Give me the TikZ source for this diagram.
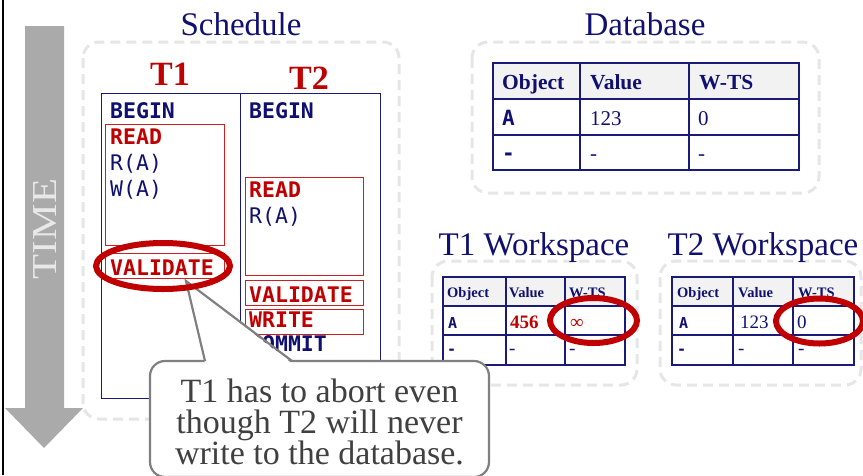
\documentclass[tikz,border=0pt]{standalone}
\usepackage{fontspec}
\usepackage{graphicx}
\setmainfont{Liberation Serif}
\setmonofont{DejaVu Sans Mono}
\usetikzlibrary{shapes.geometric}

\definecolor{navy}{RGB}{16,16,112}
\definecolor{tabline}{RGB}{26,26,120}
\definecolor{darkred}{RGB}{192,0,0}
\definecolor{boxred}{RGB}{204,32,32}
\definecolor{arrowgray}{RGB}{170,170,170}
\definecolor{timegray}{RGB}{232,232,232}
\definecolor{dashgray}{RGB}{230,230,230}
\definecolor{hdrgray}{RGB}{242,242,242}
\definecolor{notegray}{RGB}{128,128,128}
\definecolor{notetext}{RGB}{64,64,64}

\newcommand{\fsz}[2]{\fontsize{#1}{#2}\selectfont}

\tikzset{
  dashbox/.style={draw=dashgray, line width=3pt, dash pattern=on 10pt off 6pt, rounded corners=16pt},
  heading/.style={anchor=base, inner sep=0pt, text=navy, font=\fsz{33}{36}},
  txlabel/.style={anchor=base, inner sep=0pt, text=darkred, font=\fsz{34}{36}\bfseries},
  op/.style={anchor=base west, inner sep=0pt, font=\ttfamily\bfseries\fsz{21.5}{26}},
  opk/.style={op, text=navy},
  opr/.style={op, text=darkred},
  opn/.style={anchor=base west, inner sep=0pt, font=\ttfamily\fsz{21.5}{26}, text=navy},
  phase/.style={draw=boxred, line width=0.9pt},
  sched/.style={draw=tabline, line width=0.9pt},
  grid/.style={draw=tabline, line width=1.2pt},
  dbhead/.style={anchor=base west, inner sep=0pt, text=navy, font=\bfseries\fsz{21.5}{24}},
  dbkey/.style={anchor=base west, inner sep=0pt, text=navy, font=\ttfamily\bfseries\fsz{21}{24}},
  dbval/.style={anchor=base west, inner sep=0pt, text=navy, font=\fsz{21}{24}},
  wshead/.style={anchor=base west, inner sep=0pt, text=navy, font=\bfseries\fsz{14.5}{16}},
  wskey/.style={anchor=base west, inner sep=0pt, text=navy, font=\ttfamily\bfseries\fsz{15}{17}},
  wsval/.style={anchor=base west, inner sep=0pt, text=navy, font=\fsz{19}{21}},
  highlight/.style={draw=darkred, line width=6pt, ellipse, inner sep=0pt},
  notetxt/.style={anchor=north, inner sep=0pt, align=center, text=notetext, font=\fsz{34}{31}},
}

\begin{document}
\begin{tikzpicture}[x=1pt,y=-1pt]
\useasboundingbox (0,0) rectangle (863,475);

% slide edge
\draw[black, line width=1.2pt] (3,0) -- (3,475);

% time arrow
\fill[arrowgray] (25,26) -- (64,26) -- (64,408) -- (83,408) -- (44,448) -- (5,408) -- (25,408) -- cycle;
\node[rotate=90, inner sep=0pt, text=timegray, font=\fsz{35}{35}] (timelabel) at (45.5,229) {\scalebox{1.17}[1]{TIME}};

% group frames
\draw[dashbox] (83,42) rectangle (399,419);
\draw[dashbox] (472,42) rectangle (819,193);
\draw[dashbox] (432,261) rectangle (637,385);
\draw[dashbox] (660,261) rectangle (861,385);

% headings
\node[heading] (schedtitle) at (241,35) {Schedule};
\node[heading] (dbtitle) at (645,35) {Database};
\node[heading] (ws1title) at (534,255) {T1 Workspace};
\node[heading] (ws2title) at (763,255) {T2 Workspace};
\node[txlabel] (t1) at (170,85) {T1};
\node[txlabel] (t2) at (309,89) {T2};

% schedule table
\draw[sched] (101,93) rectangle (380,398);
\draw[sched] (240,93) -- (240,398);

% T1 column
\node[opk] (b1) at (110,118) {BEGIN};
\draw[phase] (105,124) rectangle (224,245);
\node[opr] (r1) at (110,144) {READ};
\node[opn] (r1a) at (110,170) {R(A)};
\node[opn] (r1b) at (110,196) {W(A)};
\draw[phase] (105,253) rectangle (224,278);
\node[opr] (v1) at (110,275) {VALIDATE};

% T2 column
\node[opk] (b2) at (249,118) {BEGIN};
\draw[phase] (245,177) rectangle (363,275);
\node[opr] (r2) at (249,197) {READ};
\node[opn] (r2a) at (249,223) {R(A)};
\draw[phase] (245,280) rectangle (363,305);
\node[opr] (v2) at (249,302) {VALIDATE};
\draw[phase] (245,309) rectangle (363,334);
\node[opr] (w2) at (249,327) {WRITE};
\node[opk] (c2) at (249,351) {COMMIT};

% database table
\fill[hdrgray] (493,63) rectangle (799,99);
\draw[grid] (493,63) rectangle (799,170);
\draw[grid] (493,99) -- (799,99) (493,135) -- (799,135) (580,63) -- (580,170) (689,63) -- (689,170);
\node[dbhead] (dbh1) at (502,89) {Object};
\node[dbhead] (dbh2) at (590,89) {Value};
\node[dbhead] (dbh3) at (699,89) {W-TS};
\node[dbkey] (dbk1) at (502,125) {A};
\node[dbval] (dbv1) at (590,125) {123};
\node[dbval] (dbt1) at (698,125) {0};
\node[dbkey] (dbk2) at (502,160) {-};
\node[dbval] (dbv2) at (590,160) {-};
\node[dbval] (dbt2) at (698,160) {-};

% T1 workspace table
\fill[hdrgray] (443,277) rectangle (625,306);
\draw[grid] (443,277) rectangle (625,365);
\draw[grid] (443,306) -- (625,306) (443,335) -- (625,335) (506,277) -- (506,365) (565,277) -- (565,365);
\node[wshead] (w1h1) at (447,297) {Object};
\node[wshead] (w1h2) at (509,297) {Value};
\node[wshead] (w1h3) at (569,297) {W-TS};
\node[wskey] (w1k1) at (448,328) {A};
\node[wsval, text=darkred, font=\bfseries\fsz{19}{21}] (w1v1) at (510,328) {456};
\node[wsval, text=darkred] (w1t1) at (570,328) {∞};
\node[wskey] (w1k2) at (447,354) {-};
\node[wsval] (w1v2) at (509,354) {-};
\node[wsval] (w1t2) at (569,354) {-};

% T2 workspace table
\fill[hdrgray] (672,277) rectangle (854,306);
\draw[grid] (672,277) rectangle (854,365);
\draw[grid] (672,306) -- (854,306) (672,335) -- (854,335) (733,277) -- (733,365) (793,277) -- (793,365);
\node[wshead] (w2h1) at (677,297) {Object};
\node[wshead] (w2h2) at (738,297) {Value};
\node[wshead] (w2h3) at (798,297) {W-TS};
\node[wskey] (w2k1) at (679,328) {A};
\node[wsval] (w2v1) at (740,328) {123};
\node[wsval] (w2t1) at (797,328) {0};
\node[wskey] (w2k2) at (677,354) {-};
\node[wsval] (w2v2) at (738,354) {-};
\node[wsval] (w2t2) at (798,354) {-};

% callout
\node[draw=notegray, line width=2.2pt, fill=white, rounded corners=15pt,
      minimum width=339pt, minimum height=116pt, inner sep=0pt] (note) at (319.5,419) {};
\coordinate (tip) at (186,281);
\coordinate (pl) at (205,361);
\coordinate (pr) at (292,361);
\fill[white] ([yshift=-2.5pt]pl) -- (tip) -- ([yshift=-2.5pt]pr) -- cycle;
\draw[notegray, line width=2.2pt, line join=miter] (pl) -- (tip) -- (pr);
\node[notetxt] (notetext) at (319.5,378.3) {T1 has to abort even\\though T2 will never\\write to the database.};

% highlights
\node[highlight, minimum width=134pt, minimum height=46pt] (hl1) at (163,266) {};
\node[highlight, minimum width=87pt, minimum height=45pt] (hl2) at (593.5,320.5) {};
\node[highlight, minimum width=87pt, minimum height=45pt] (hl3) at (819.5,321) {};
\end{tikzpicture}
\end{document}
